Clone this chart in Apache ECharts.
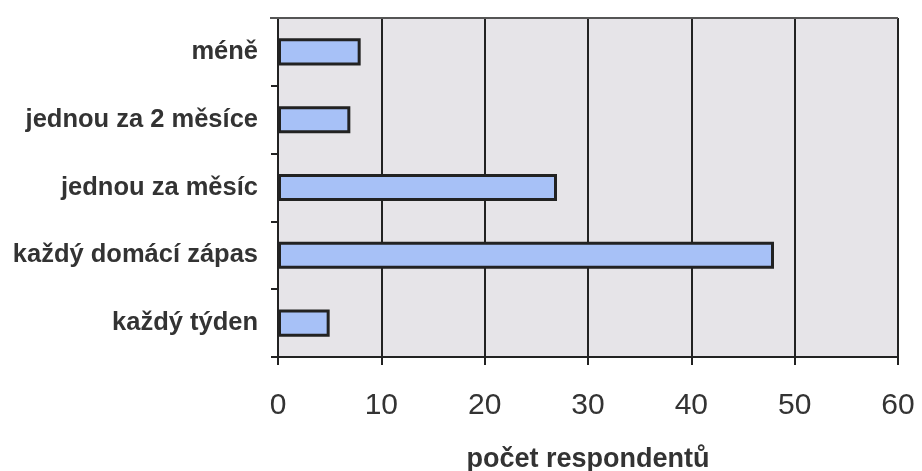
<!DOCTYPE html>
<html>
<head>
<meta charset="utf-8">
<script src="https://cdn.jsdelivr.net/npm/echarts@6/dist/echarts.min.js"></script>
<style>
  html, body { margin: 0; padding: 0; background: #ffffff; }
  #chart { width: 922px; height: 471px; }
</style>
</head>
<body>
<div id="chart"></div>
<script>
// How often respondents attend matches (top to bottom)
const categories = ['méně', 'jednou za 2 měsíce', 'jednou za měsíc', 'každý domácí zápas', 'každý týden'];
const respondents = [8, 7, 27, 48, 5];
const xTicks = [0, 10, 20, 30, 40, 50, 60];
const xTitle = 'počet respondentů';

const FONT = '"Liberation Sans", Arial, sans-serif';
const chart = echarts.init(document.getElementById('chart'));

chart.setOption({
  backgroundColor: '#ffffff',
  animation: false,
  grid: {
    left: 278, right: 24, top: 18, bottom: 114,
    outerBoundsMode: 'none',
    containLabel: false,
    show: true,
    backgroundColor: '#e6e4e8',
    borderColor: '#b8b8b8',
    borderWidth: 1
  },
  xAxis: {
    type: 'value',
    min: xTicks[0],
    max: xTicks[xTicks.length - 1],
    interval: xTicks[1] - xTicks[0],
    name: xTitle,
    nameLocation: 'middle',
    nameGap: 89,
    nameTextStyle: { fontFamily: FONT, fontSize: 27, fontWeight: 'bold', color: '#333' },
    axisLine: { show: true, lineStyle: { color: '#222', width: 2 } },
    axisTick: { show: true, length: 8, lineStyle: { color: '#222', width: 2 } },
    axisLabel: { fontFamily: FONT, fontSize: 30, color: '#333', margin: 34 },
    splitLine: { show: true, lineStyle: { color: '#222', width: 2 } }
  },
  yAxis: {
    type: 'category',
    data: categories,
    inverse: true,
    axisLine: { show: true, lineStyle: { color: '#222', width: 2 } },
    axisTick: { show: true, length: 7, lineStyle: { color: '#222', width: 2 } },
    axisLabel: { fontFamily: FONT, fontSize: 25.5, fontWeight: 'bold', color: '#333', margin: 20 },
    splitLine: { show: false }
  },
  series: [{
    type: 'bar',
    data: respondents,
    barCategoryGap: '60%',
    itemStyle: { color: '#a7c1f7', borderColor: '#222', borderWidth: 3 }
  }]
});

// darker top edge of the plot frame
chart.setOption({
  graphic: [{
    type: 'line',
    shape: { x1: 270, y1: 18, x2: 898, y2: 18 },
    style: { stroke: '#555', lineWidth: 2 },
    z: 10
  }]
});
</script>
</body>
</html>
